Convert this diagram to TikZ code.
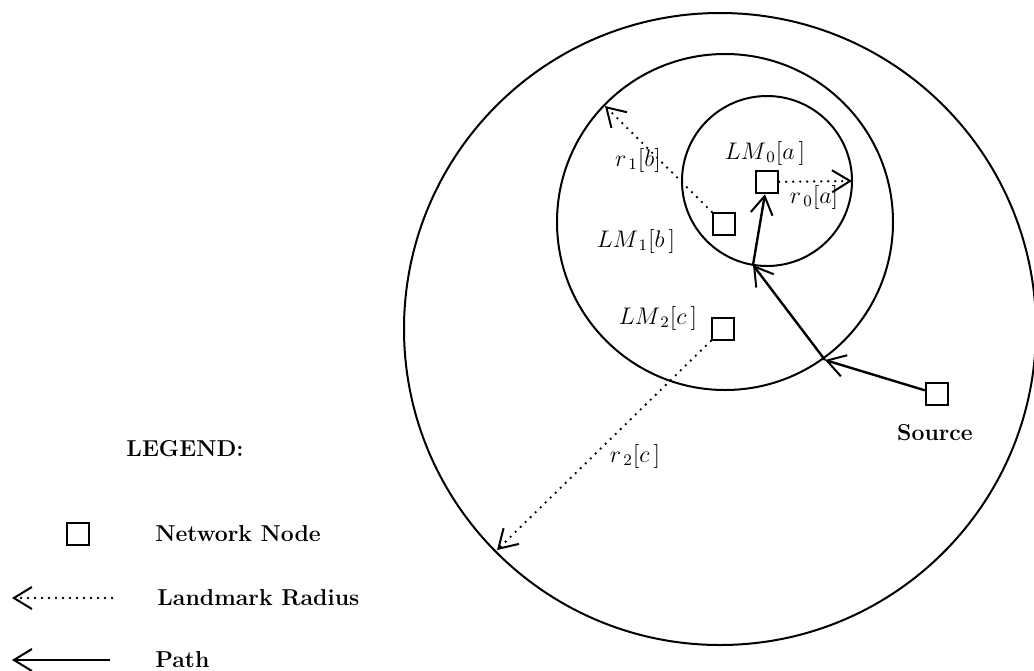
\documentclass[tikz,border=0pt]{standalone}
\usetikzlibrary{arrows.meta}
\begin{document}
\begin{tikzpicture}[x=0.5pt,y=-0.5pt,
  ring/.style={draw, line width=1pt},
  netnode/.style={draw, line width=1.2pt, rectangle, minimum size=11pt, inner sep=0pt},
  barb/.style={-{Straight Barb[length=9pt,width=11pt,line width=1pt]}},
  pathline/.style={line width=1.2pt, barb},
  radiusline/.style={line width=1.3pt, dash pattern=on 0pt off 3.5pt, line cap=round, barb},
  mlabel/.style={font=\fontsize{12}{14}\selectfont, inner sep=0pt},
  tlabel/.style={font=\fontsize{11.5}{14}\selectfont\bfseries, inner sep=0pt}]
\useasboundingbox (0,0) rectangle (1034,670);
% circles
\draw[ring] (767,181) circle[radius=42.5pt];
\draw[ring] (725,222) circle[radius=84pt];
\draw[ring] (720,329) circle[radius=158pt];
% network nodes
\node[netnode] (lm0) at (767,182) {};
\node[netnode] (lm1) at (724,224) {};
\node[netnode] (lm2) at (723,329) {};
\node[netnode] (src) at (937,394) {};
% points on circles
\coordinate (t0) at (852,181);
\coordinate (t1) at (605,106);
\coordinate (t2) at (497,550);
\coordinate (p1) at (825,360);
\coordinate (p2) at (753,265);
% landmark radii
\draw[radiusline] (lm0) -- (t0);
\draw[radiusline] (lm1) -- (t1);
\draw[radiusline] (lm2) -- (t2);
% path
\draw[pathline] (src) -- (p1);
\draw[pathline] (p1) -- (p2);
\draw[pathline] (p2) -- (lm0);
% labels
\node[mlabel] (lLM0) at (765,153) {$LM_{\,0}[a\,]$};
\node[mlabel] (lr0) at (814,197) {$r_{\,0}[a]$};
\node[mlabel] (lr1) at (638,160) {$r_{\,1}[b]$};
\node[mlabel] (lLM1) at (636,241) {$LM_{\,1}[b\,]$};
\node[mlabel] (lLM2) at (658,318) {$LM_{\,2}[c\,]$};
\node[mlabel] (lr2) at (635,456) {$r_{\,2}[c\,]$};
\node[tlabel] (lsrc) at (935,433) {Source};
% legend
\node[tlabel] (leg) at (185,449) {LEGEND:};
\node[netnode] (kn) at (78,534) {};
\node[tlabel, anchor=west] (kntext) at (155,534) {Network Node};
\coordinate (ka1) at (112,598);
\coordinate (ka0) at (12,598);
\draw[radiusline] (ka1) -- (ka0);
\node[tlabel, anchor=west] (katext) at (157,598) {Landmark Radius};
\coordinate (kp1) at (110,660);
\coordinate (kp0) at (12,660);
\draw[pathline] (kp1) -- (kp0);
\node[tlabel, anchor=west] (kptext) at (155,660) {Path};
\end{tikzpicture}
\end{document}
